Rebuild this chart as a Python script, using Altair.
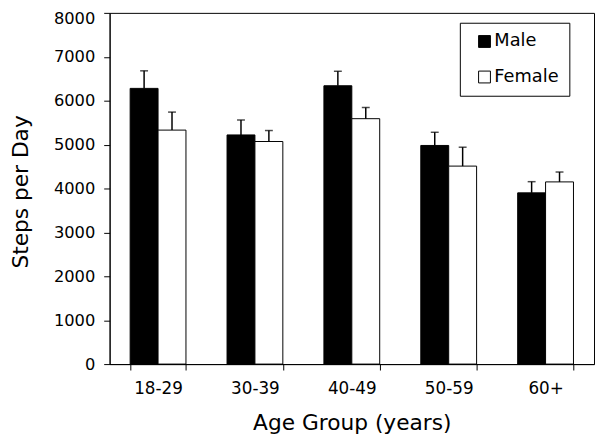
import altair as alt
import pandas as pd

groups = ["18-29", "30-39", "40-49", "50-59", "60+"]
male = [6280, 5220, 6340, 4980, 3900]
male_err = [400, 340, 330, 300, 255]
female = [5330, 5070, 5590, 4510, 4150]
female_err = [410, 250, 255, 430, 225]
sexes = ["Male", "Female"]
y_ticks = [0, 1000, 2000, 3000, 4000, 5000, 6000, 7000, 8000]

rows = []
for g, m, me, f, fe in zip(groups, male, male_err, female, female_err):
    rows.append({"group": g, "sex": "Male", "value": m, "upper": m + me})
    rows.append({"group": g, "sex": "Female", "value": f, "upper": f + fe})
df = pd.DataFrame(rows)

FONT = "DejaVu Sans"

x = alt.X(
    "group:N",
    sort=groups,
    scale=alt.Scale(paddingInner=0.424, paddingOuter=0.212),
    axis=alt.Axis(
        title="Age Group (years)",
        labelAngle=0,
        tickBand="extent",
        tickSize=6,
        labelPadding=11,
        labelFontSize=17,
        titleFontSize=22,
        titleFontWeight="normal",
        titleBaseline="alphabetic",
        titleY=66,
    ),
)
xo = alt.XOffset("sex:N", sort=sexes, scale=alt.Scale(domain=sexes, paddingInner=0, paddingOuter=0))

base = alt.Chart(df)

bars = base.mark_bar(stroke="black", strokeWidth=1).encode(
    x=x,
    xOffset=xo,
    y=alt.Y(
        "value:Q",
        scale=alt.Scale(domain=[0, 8000], nice=False),
        axis=alt.Axis(
            title="Steps per Day",
            values=y_ticks,
            format="d",
            grid=False,
            tickSize=6,
            labelPadding=9,
            labelFontSize=16.5,
            labelOffset=alt.condition("datum.value == 8000", alt.value(6), alt.value(0)),
            titleFontSize=22,
            titleFontWeight="normal",
            titleBaseline="alphabetic",
            titleX=-83,
            titleY=181,
        ),
    ),
    fill=alt.Fill(
        "sex:N",
        sort=sexes,
        scale=alt.Scale(domain=sexes, range=["black", "white"]),
        legend=alt.Legend(
            title=None,
            orient="none",
            legendX=355,
            legendY=10,
            symbolType="square",
            symbolSize=144,
            symbolStrokeColor="black",
            symbolStrokeWidth=1,
            symbolOffset=6,
            labelFontSize=18,
            labelOffset=1,
            rowPadding=18,
            padding=10,
            strokeColor="black",
            fillColor="white",
        ),
    ),
)

err = base.mark_rule(color="black", strokeWidth=1.5).encode(
    x=x,
    xOffset=xo,
    y="value:Q",
    y2="upper:Q",
)

caps = base.mark_tick(color="black", size=8, thickness=1.5).encode(
    x=x,
    xOffset=xo,
    y="upper:Q",
)

chart = (
    alt.layer(bars, err, caps)
    .properties(
        width=491,
        height=356,
        autosize=alt.AutoSizeParams(type="none"),
        padding={"left": 103, "top": 2, "right": 1, "bottom": 74},
    )
    .configure_view(stroke="black", strokeWidth=1)
    .configure_axis(
        domainColor="black",
        tickColor="black",
        labelColor="black",
        titleColor="black",
        labelFont=FONT,
        titleFont=FONT,
    )
    .configure_legend(labelFont=FONT, labelColor="black")
)

chart.save("out.html", embed_options={"renderer": "svg", "actions": False})
